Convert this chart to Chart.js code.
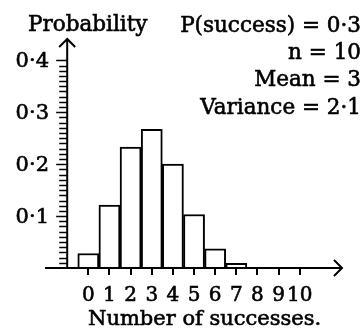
<!DOCTYPE html>
<html>
<head>
<meta charset="utf-8">
<script src="https://cdn.jsdelivr.net/npm/chart.js@4"></script>
<style>
  html, body { margin: 0; padding: 0; background: #fff; }
  #wrap { width: 364px; height: 329px; position: relative; }
</style>
</head>
<body>
<div id="wrap"><canvas id="chart"></canvas></div>
<script>
// Binomial distribution, n = 10, p = 0.3
const successes = [0, 1, 2, 3, 4, 5, 6, 7, 8, 9, 10];
const probabilities = [0.028, 0.121, 0.233, 0.267, 0.200, 0.103, 0.037, 0.009, 0.001, 0.000, 0.000];
const yTickValues = [0.1, 0.2, 0.3, 0.4];
const yTickLabels = ['0·1', '0·2', '0·3', '0·4'];
const infoLines = ['P(success) = 0·3', 'n = 10', 'Mean = 3', 'Variance = 2·1'];
const yTitle = 'Probability';
const xTitle = 'Number of successes.';

const FONT = '"DejaVu Serif", serif';

// text with a thin outline so it looks as heavy as the print
function boldText(ctx, text, px, py) {
    ctx.fillText(text, px, py);
    ctx.strokeText(text, px, py);
}

// draws the hand-drawn style axes, ticks and all labels
const axesPlugin = {
    id: 'axesPlugin',
    afterDatasetsDraw(chart) {
        const { ctx, chartArea, scales: { x, y } } = chart;
        const x0 = x.getPixelForValue(-1);      // y axis sits at x = -1
        const y0 = y.getPixelForValue(0);
        ctx.save();
        ctx.strokeStyle = '#000';
        ctx.fillStyle = '#000';
        ctx.lineWidth = 2;
        ctx.lineCap = 'butt';

        // x axis with arrow
        ctx.beginPath();
        ctx.moveTo(chartArea.left, y0);
        ctx.lineTo(chartArea.right, y0);
        ctx.moveTo(chartArea.right - 8, y0 - 8);
        ctx.lineTo(chartArea.right, y0);
        ctx.lineTo(chartArea.right - 8, y0 + 8);
        ctx.stroke();

        // y axis with arrow
        const top = chartArea.top + 1;
        ctx.beginPath();
        ctx.moveTo(x0, y0);
        ctx.lineTo(x0, top);
        ctx.moveTo(x0 - 8, top + 8);
        ctx.lineTo(x0, top);
        ctx.lineTo(x0 + 8, top + 8);
        ctx.stroke();

        // minor ticks every 0.01, longer at every 0.1
        ctx.lineWidth = 1.5;
        ctx.beginPath();
        for (let i = 1; i <= 40; i++) {
            const py = Math.round(y.getPixelForValue(i / 100)) + 0.5;
            const len = i % 10 === 0 ? 11 : 8;
            ctx.moveTo(x0 - len, py);
            ctx.lineTo(x0, py);
        }
        ctx.stroke();

        // x ticks
        ctx.lineWidth = 2;
        ctx.beginPath();
        successes.forEach(v => {
            const px = Math.round(x.getPixelForValue(v));
            ctx.moveTo(px, y0);
            ctx.lineTo(px, y0 + 7);
        });
        ctx.stroke();

        ctx.lineWidth = 0.6;

        // y tick labels
        ctx.font = '21px ' + FONT;
        ctx.textAlign = 'right';
        ctx.textBaseline = 'middle';
        yTickValues.forEach((v, i) => {
            boldText(ctx, yTickLabels[i], 49, y.getPixelForValue(v) + 1);
        });

        // x tick labels
        ctx.font = '20px ' + FONT;
        ctx.textAlign = 'center';
        ctx.textBaseline = 'alphabetic';
        successes.forEach(v => {
            boldText(ctx, String(v), x.getPixelForValue(v), 301);
        });

        // axis titles
        ctx.font = '21px ' + FONT;
        ctx.textAlign = 'left';
        boldText(ctx, xTitle, 88, 325);
        ctx.font = '21.5px ' + FONT;
        boldText(ctx, yTitle, 28, 31);

        // info box, right aligned
        ctx.textAlign = 'right';
        const baselines = [32, 59, 86, 114];
        infoLines.forEach((t, i) => boldText(ctx, t, 361, baselines[i]));
        ctx.restore();
    }
};

new Chart(document.getElementById('chart'), {
    type: 'bar',
    data: {
        datasets: [{
            data: successes.map((s, i) => ({ x: s, y: probabilities[i] })),
            backgroundColor: '#fff',
            borderColor: '#000',
            borderWidth: 2,
            borderSkipped: 'bottom',
            barPercentage: 1,
            categoryPercentage: 1
        }]
    },
    options: {
        responsive: true,
        maintainAspectRatio: false,
        animation: false,
        layout: { padding: { left: 45, right: 22, top: 38, bottom: 61 } },
        plugins: { legend: { display: false }, tooltip: { enabled: false } },
        scales: {
            x: { type: 'linear', min: -2.05, max: 12, offset: false, display: false },
            y: { min: 0, max: 0.443, display: false }
        }
    },
    plugins: [axesPlugin]
});
</script>
</body>
</html>
